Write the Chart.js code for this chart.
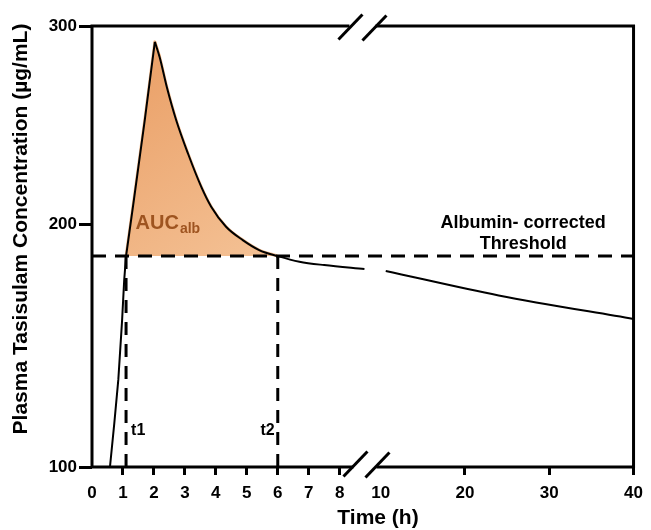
<!DOCTYPE html>
<html>
<head>
<meta charset="utf-8">
<script src="https://cdn.jsdelivr.net/npm/chart.js@4.4.1/dist/chart.umd.min.js"></script>
<style>
    html, body { margin: 0; padding: 0; background: #fff; }
    canvas { display: block; }
</style>
</head>
<body>
<canvas id="pkChart" width="651" height="530"></canvas>
<script>
// Concentration-time profile (null = axis break)
const timeH = [0.58, 0.72, 0.85, 0.97, 1.04, 1.1, 1.35, 1.7, 2.03, 2.19, 2.42, 2.72, 3.1, 3.53, 3.85, 4.33, 4.87, 5.4, 6, 6.7, 7.5, 8.8, 9.5, 10.6, 24, 40];
const concentration = [100, 118, 136, 160, 177, 186.9, 212, 252, 292, 284, 269, 252.5, 235.7, 218.9, 208.9, 199, 193.5, 189.4, 186.9, 184.6, 183.2, 181.6, null, 180.8, 170.7, 161];

const threshold = 186.9;   // albumin-corrected threshold
const t1 = 1.1;
const t2 = 6;

const xTicks = [0, 1, 2, 3, 4, 5, 6, 7, 8, 10, 20, 30, 40];
const yTicks = [100, 200, 300];

const FONT = '"Liberation Sans", Arial, Helvetica, sans-serif';

// Linear scale with piecewise segments (value -> fraction of axis length)
class BrokenScale extends Chart.LinearScale {
    static id = 'broken';
    static defaults = Chart.LinearScale.defaults;

    toDecimal(v) {
        const s = this.options.stops;
        for (let i = 1; i < s.length; i++) {
            if (v <= s[i][0] || i === s.length - 1) {
                const [v0, d0] = s[i - 1], [v1, d1] = s[i];
                return d0 + (v - v0) * (d1 - d0) / (v1 - v0);
            }
        }
    }

    getPixelForValue(value) {
        return value === null ? NaN : this.getPixelForDecimal(this.toDecimal(value));
    }

    getValueForPixel(pixel) {
        const d = this.getDecimalForPixel(pixel);
        const s = this.options.stops;
        for (let i = 1; i < s.length; i++) {
            if (d <= s[i][1] || i === s.length - 1) {
                const [v0, d0] = s[i - 1], [v1, d1] = s[i];
                return v0 + (d - d0) * (v1 - v0) / (d1 - d0);
            }
        }
    }
}
Chart.register(BrokenScale);

const curve = timeH.map((t, i) => ({ x: t, y: concentration[i] }));
const peakIdx = concentration.indexOf(Math.max(...concentration.filter(v => v !== null)));
const rise = curve.slice(0, peakIdx + 1);
const decay = curve.slice(peakIdx);
// rise fill overlaps the first decay step so no seam shows at the peak
const aucRise = curve.slice(0, peakIdx + 2).filter(p => p.x >= t1);
const aucDecay = decay.filter(p => p.y !== null && p.x <= t2);

// Frame with axis breaks + text annotations
const decorations = {
    id: 'decorations',
    afterDatasetsDraw(chart) {
        const { ctx, chartArea: a, scales: { x, y } } = chart;
        const brk = x.getPixelForValue(8.8);

        ctx.save();
        ctx.strokeStyle = '#000';
        ctx.lineWidth = 3;
        ctx.lineJoin = 'miter';

        ctx.beginPath();
        ctx.moveTo(brk - 15, a.top);
        ctx.lineTo(a.left, a.top);
        ctx.lineTo(a.left, a.bottom);
        ctx.lineTo(brk - 11, a.bottom);
        ctx.moveTo(brk + 11, a.top);
        ctx.lineTo(a.right, a.top);
        ctx.lineTo(a.right, a.bottom);
        ctx.lineTo(brk + 12, a.bottom);
        ctx.stroke();

        // break marks "//"
        const slash = (cx, cy) => {
            ctx.beginPath();
            ctx.moveTo(cx - 12, cy + 12.5);
            ctx.lineTo(cx + 12, cy - 12.5);
            ctx.stroke();
        };
        slash(brk - 14, a.top + 1);
        slash(brk + 10, a.top + 2);
        slash(brk - 9, a.bottom - 3);
        slash(brk + 13, a.bottom - 2);

        const ty = y.getPixelForValue(threshold);

        // threshold label
        ctx.fillStyle = '#000';
        ctx.font = `bold 18px ${FONT}`;
        ctx.textAlign = 'center';
        ctx.textBaseline = 'alphabetic';
        const lx = x.getPixelForValue(26.9);
        ctx.fillText('Albumin- corrected', lx, ty - 28);
        ctx.fillText('Threshold', lx, ty - 7);

        // t1 / t2
        ctx.font = `bold 16px ${FONT}`;
        ctx.textAlign = 'left';
        ctx.fillText('t1', x.getPixelForValue(t1) + 5, a.bottom - 32);
        ctx.textAlign = 'right';
        ctx.fillText('t2', x.getPixelForValue(t2) - 3, a.bottom - 32);

        // AUC_alb
        ctx.fillStyle = '#9E5420';
        ctx.textAlign = 'left';
        ctx.font = `bold 20px ${FONT}`;
        const ax = x.getPixelForValue(t1) + 9.5;
        ctx.fillText('AUC', ax, ty - 27);
        const w = ctx.measureText('AUC').width;
        ctx.font = `bold 14px ${FONT}`;
        ctx.fillText('alb', ax + w + 1, ty - 23);

        // axis titles
        ctx.fillStyle = '#000';
        ctx.font = `bold 21px ${FONT}`;
        ctx.textAlign = 'center';
        ctx.fillText('Time (h)', 378, 524);

        ctx.translate(21, 229);
        ctx.rotate(-Math.PI / 2);
        ctx.textBaseline = 'middle';
        ctx.fillText('Plasma Tasisulam Concentration (µg/mL)', 0, 0);
        ctx.restore();
    }
};

const tickFont = { family: FONT, size: 17, weight: 'bold' };

function aucFill(c) {
    const chart = c.chart;
    if (!chart.chartArea) return '#EFAE78';
    const { x, y } = chart.scales;
    const g = chart.ctx.createLinearGradient(
        x.getPixelForValue(1.5), y.getPixelForValue(290),
        x.getPixelForValue(6), y.getPixelForValue(threshold)
    );
    g.addColorStop(0, '#EA9F66');
    g.addColorStop(1, '#F4C296');
    return g;
}

const lineStyle = { borderColor: '#000', borderWidth: 2, pointRadius: 0, fill: false, order: 1 };
const dashStyle = { borderColor: '#000', borderWidth: 3, pointRadius: 0, fill: false, order: 2 };
const aucStyle = {
    borderColor: 'rgba(240, 172, 115, 0.8)',
    borderWidth: 3,
    borderJoinStyle: 'round',
    pointRadius: 0,
    fill: { value: threshold },
    backgroundColor: aucFill,
    order: 5
};

new Chart(document.getElementById('pkChart'), {
    type: 'line',
    data: {
        datasets: [
            { label: 'Absorption', data: rise, tension: 0, ...lineStyle },
            { label: 'Elimination', data: decay, cubicInterpolationMode: 'monotone', spanGaps: false, ...lineStyle },
            { label: 'Threshold', data: [{ x: 0, y: threshold }, { x: 40, y: threshold }], borderDash: [14, 9], ...dashStyle },
            { label: 't1', data: [{ x: t1, y: 100 }, { x: t1, y: threshold }], borderDash: [13, 9], ...dashStyle },
            { label: 't2', data: [{ x: t2, y: 100 }, { x: t2, y: threshold }], borderDash: [13, 9], ...dashStyle },
            { label: 'AUC rise', data: aucRise, tension: 0, ...aucStyle },
            { label: 'AUC decay', data: aucDecay, cubicInterpolationMode: 'monotone', ...aucStyle }
        ]
    },
    options: {
        responsive: false,
        animation: false,
        events: [],
        layout: { padding: { top: 26, right: 15, left: 0, bottom: 0 } },
        plugins: {
            legend: { display: false },
            tooltip: { enabled: false }
        },
        scales: {
            x: {
                type: 'broken',
                min: 0,
                max: 40,
                stops: [[0, 0], [8.8, 0.5031], [10, 0.5331], [40, 1]],
                afterBuildTicks: s => { s.ticks = xTicks.map(v => ({ value: v })); },
                afterFit: s => { s.height = 63; },
                border: { display: false },
                grid: {
                    drawOnChartArea: false,
                    tickLength: 8,
                    tickWidth: 3,
                    tickColor: c => (c.tick && (c.tick.value === 0 || c.tick.value === 10)) ? 'rgba(0,0,0,0)' : '#000'
                },
                ticks: {
                    color: '#000',
                    font: tickFont,
                    padding: 8,
                    maxRotation: 0,
                    autoSkip: false,
                    callback: v => v
                }
            },
            y: {
                type: 'broken',
                min: 100,
                max: 300,
                stops: [[100, 0], [200, 0.5503], [300, 1]],
                afterBuildTicks: s => { s.ticks = yTicks.map(v => ({ value: v })); },
                afterFit: s => { s.width = 92; },
                border: { display: false },
                grid: {
                    drawOnChartArea: false,
                    tickLength: 13,
                    tickWidth: 3,
                    tickColor: '#000'
                },
                ticks: {
                    color: '#000',
                    font: tickFont,
                    padding: 2,
                    callback: v => v
                }
            }
        }
    },
    plugins: [decorations]
});
</script>
</body>
</html>
